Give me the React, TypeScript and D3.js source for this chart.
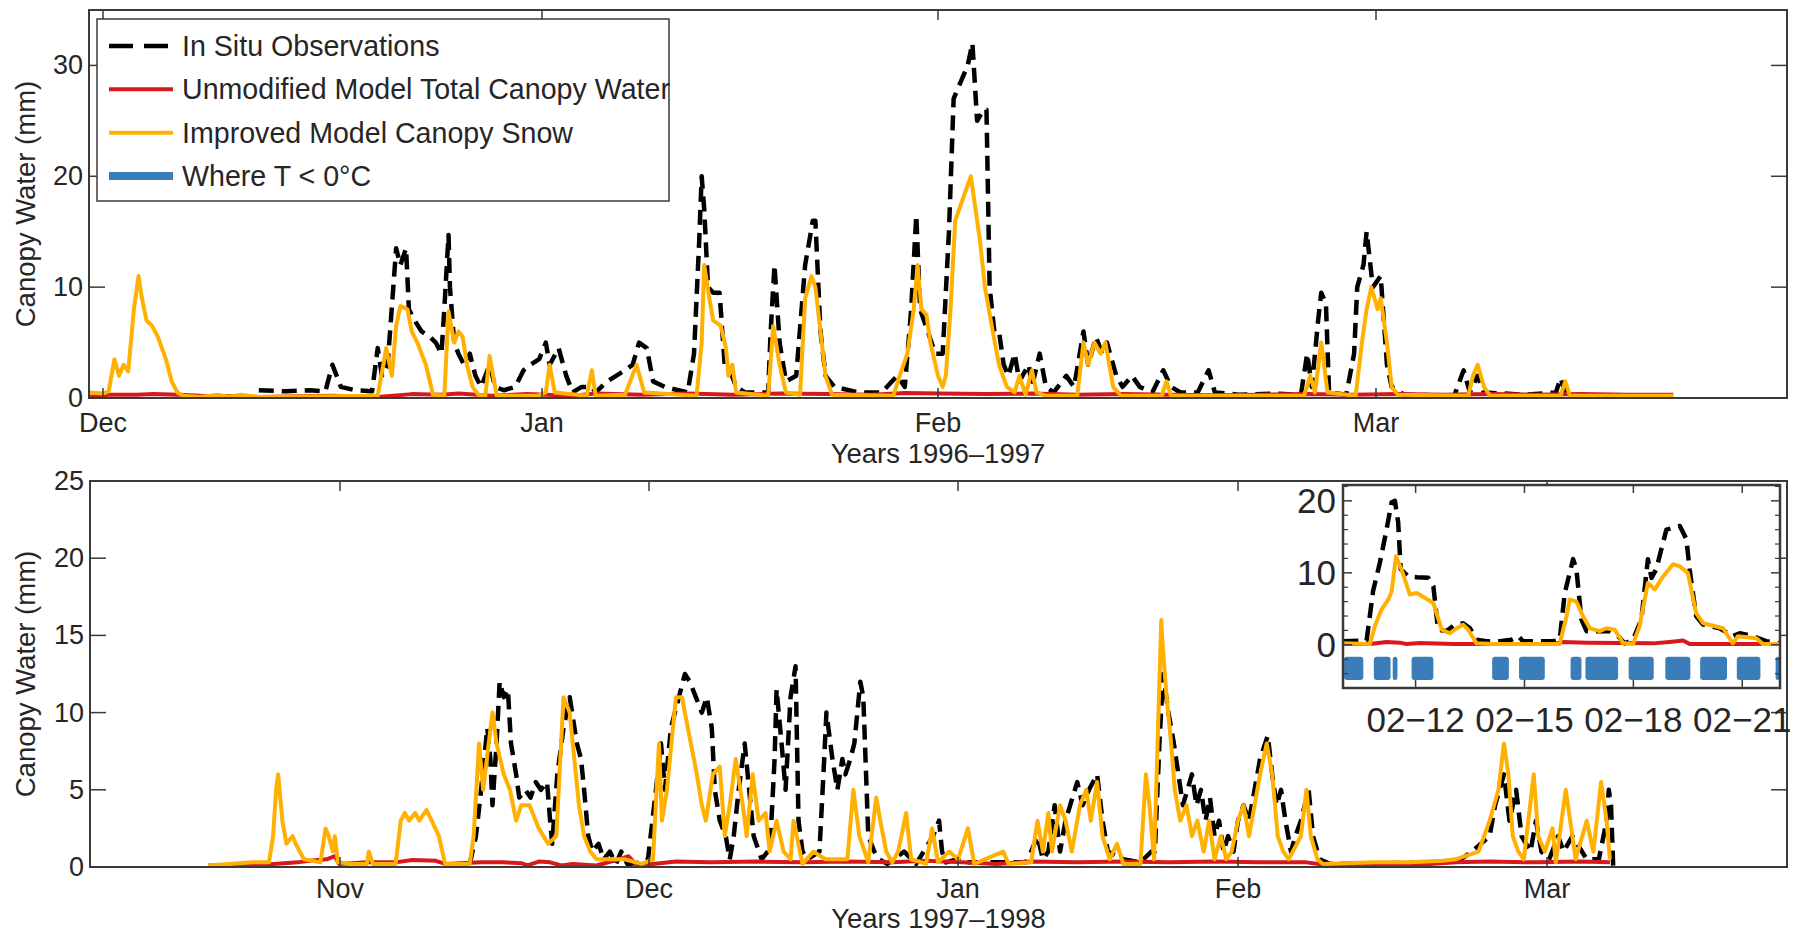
import React from 'react';
import * as d3 from 'd3';

// ---------- Top panel (1996–1997): x = days since 1 Dec 1996 ----------
const topMonthDays = [0, 31, 62, 90];
const topMonthLabels = ['Dec', 'Jan', 'Feb', 'Mar'];
const topYTicks = [0, 10, 20, 30];
const topXTitle = 'Years 1996\u20131997';

const topObs: [number, number][] = [
  [11.0, 0.7], [12.9, 0.6], [14.6, 0.7], [15.7, 0.6], [16.2, 3.0], [16.5, 2.0], [16.8, 1.0], [17.8, 0.7],
  [19.0, 0.6], [19.4, 4.5], [19.7, 2.0], [20.1, 3.0], [20.5, 10.0], [20.7, 13.5], [21.0, 12.0], [21.4, 13.5],
  [21.6, 8.0], [22.0, 7.0], [22.5, 6.0], [23.1, 5.5], [23.5, 5.0], [23.9, 4.0], [24.1, 8.0], [24.4, 14.7],
  [24.5, 10.0], [24.8, 5.0], [25.1, 4.0], [25.5, 3.0], [25.9, 4.0], [26.3, 2.0], [26.7, 1.0], [27.3, 3.0],
  [27.7, 1.0], [28.3, 0.7], [29.1, 1.0], [29.7, 2.5], [30.2, 3.0], [30.8, 3.5], [31.3, 5.0], [31.6, 3.0],
  [32.3, 4.5], [32.9, 2.0], [33.4, 0.5], [34.1, 1.0], [34.9, 1.0], [35.2, 0.5], [36.1, 1.5], [37.5, 2.5],
  [38.1, 3.0], [38.6, 5.0], [39.2, 4.5], [39.7, 1.5], [40.6, 1.0], [42.4, 0.5], [42.9, 4.0], [43.3, 14.0],
  [43.5, 20.0], [43.7, 17.0], [44.0, 10.0], [44.4, 9.5], [44.9, 9.5], [45.3, 3.0], [45.7, 2.5], [46.2, 1.0],
  [46.9, 0.5], [48.7, 0.5], [48.9, 6.0], [49.2, 12.0], [49.6, 5.0], [50.1, 1.5], [50.9, 2.0], [51.6, 12.0],
  [52.2, 16.0], [52.4, 16.0], [52.8, 6.0], [53.2, 2.0], [53.9, 1.0], [55.8, 0.5], [57.6, 0.5], [58.8, 2.0],
  [59.4, 1.0], [59.9, 8.0], [60.3, 16.5], [60.6, 8.0], [61.2, 6.0], [61.8, 4.0], [62.3, 4.0], [62.7, 15.0],
  [63.0, 27.0], [63.3, 28.0], [63.9, 30.0], [64.2, 32.0], [64.5, 25.0], [64.9, 26.0], [65.1, 26.0], [65.3, 10.0],
  [65.6, 6.0], [65.9, 6.0], [66.2, 3.0], [66.5, 2.0], [66.9, 4.0], [67.2, 1.5], [67.8, 3.0], [68.0, 1.0],
  [68.5, 4.0], [68.9, 1.0], [69.4, 0.5], [70.2, 2.0], [70.7, 1.0], [71.3, 6.0], [71.6, 3.0], [72.1, 5.5],
  [72.5, 4.0], [72.8, 5.0], [73.4, 2.0], [73.8, 1.0], [74.4, 2.0], [74.9, 1.0], [75.7, 0.5], [76.4, 2.5],
  [76.9, 1.0], [77.5, 0.5], [78.6, 0.5], [79.3, 2.5], [79.7, 0.5], [81.2, 0.3], [83.4, 0.4], [85.2, 0.3],
  [85.6, 4.0], [85.9, 1.0], [86.3, 7.0], [86.5, 9.5], [86.8, 8.5], [87.0, 0.5], [88.1, 0.3], [88.6, 4.0],
  [88.8, 10.0], [89.2, 12.0], [89.4, 15.0], [89.8, 10.0], [90.3, 11.0], [90.7, 3.0], [91.0, 1.0], [91.8, 0.3],
  [95.0, 0.2], [95.6, 2.5], [96.0, 0.5], [96.5, 2.0], [96.9, 0.5], [99.5, 0.3], [101.5, 0.5], [101.8, 1.8],
  [102.1, 0.5], [102.4, 0.3],
];

const topUnmod: [number, number][] = [
  [-0.96, 0.1], [0.4, 0.3], [2.4, 0.3], [3.6, 0.35], [5.3, 0.3], [6.9, 0.2], [8.9, 0.15], [11.0, 0.1],
  [16.2, 0.2], [19.4, 0.1], [21.8, 0.35], [23.9, 0.3], [25.1, 0.4], [27.5, 0.2], [29.9, 0.35], [33.4, 0.2],
  [35.2, 0.4], [38.8, 0.3], [42.4, 0.4], [46.0, 0.3], [49.6, 0.4], [53.2, 0.35], [56.8, 0.3], [59.4, 0.45],
  [62.1, 0.4], [65.0, 0.35], [68.0, 0.4], [70.9, 0.3], [73.8, 0.35], [76.8, 0.3], [79.7, 0.25], [82.6, 0.3],
  [85.6, 0.35], [88.5, 0.3], [91.4, 0.35], [94.3, 0.3], [97.3, 0.35], [100.2, 0.3], [103.1, 0.35], [106.1, 0.3],
  [109.0, 0.3],
];

const topImproved: [number, number][] = [
  [-0.96, 0.5], [0.0, 0.4], [0.4, 0.6], [0.81, 3.5], [1.13, 2.0], [1.46, 3.0], [1.78, 2.4], [2.18, 8.0],
  [2.51, 11.0], [2.75, 9.0], [3.07, 7.0], [3.47, 6.5], [3.88, 5.5], [4.44, 3.5], [4.85, 1.5], [5.25, 0.5],
  [5.66, 0.2], [6.88, 0.1], [8.1, 0.3], [8.9, 0.1], [9.7, 0.3], [10.9, 0.1], [19.4, 0.2], [20.0, 4.5],
  [20.4, 2.0], [20.7, 6.5], [21.0, 8.3], [21.5, 8.0], [21.8, 6.0], [22.2, 5.0], [22.8, 3.0], [23.3, 0.3],
  [24.1, 0.2], [24.4, 7.8], [24.8, 5.0], [25.1, 6.0], [25.4, 5.5], [25.7, 3.0], [26.1, 1.0], [26.5, 0.3],
  [27.0, 0.2], [27.3, 3.8], [27.8, 0.2], [30.7, 0.2], [31.3, 0.5], [31.6, 3.0], [32.0, 0.5], [34.5, 0.2],
  [34.9, 2.5], [35.2, 0.2], [37.5, 0.3], [38.4, 3.0], [39.0, 0.5], [43.1, 0.2], [43.5, 5.0], [43.7, 12.0],
  [44.1, 9.0], [44.4, 7.0], [45.0, 6.5], [45.4, 4.5], [45.6, 2.0], [45.9, 3.0], [46.2, 0.5], [48.7, 0.2],
  [49.1, 6.5], [49.6, 3.0], [50.1, 0.5], [51.2, 0.3], [51.6, 9.0], [52.1, 11.0], [52.4, 10.0], [52.8, 6.0],
  [53.2, 2.0], [53.7, 0.3], [58.5, 0.2], [59.0, 2.0], [59.6, 4.0], [60.1, 8.0], [60.4, 12.0], [60.7, 8.0],
  [61.1, 7.5], [61.4, 5.0], [62.0, 2.0], [62.3, 1.0], [62.5, 2.0], [62.8, 8.0], [63.1, 16.0], [63.6, 18.0],
  [64.1, 20.0], [64.4, 17.0], [64.7, 14.0], [65.0, 10.0], [65.5, 6.0], [65.9, 3.0], [66.4, 1.0], [66.9, 0.5],
  [67.2, 2.0], [67.6, 0.3], [68.0, 2.5], [68.3, 0.5], [68.9, 0.2], [70.9, 0.2], [71.3, 5.0], [71.6, 3.0],
  [72.0, 5.0], [72.4, 4.0], [72.7, 5.0], [73.2, 1.0], [73.7, 0.2], [76.3, 0.2], [76.6, 1.5], [76.9, 0.2],
  [85.4, 0.2], [85.8, 2.0], [86.1, 0.5], [86.5, 5.0], [86.9, 0.5], [88.7, 0.2], [89.1, 5.0], [89.4, 8.0],
  [89.7, 10.0], [90.1, 8.0], [90.3, 9.0], [90.7, 5.0], [91.0, 1.0], [91.4, 0.3], [95.9, 0.2], [96.2, 2.0],
  [96.5, 3.0], [96.9, 1.0], [97.3, 0.2], [101.8, 0.2], [102.1, 1.5], [102.4, 0.2], [109.0, 0.2],
];

// ---------- Bottom panel (1997–1998): x = days since 1 Nov 1997 ----------
const botMonthDays = [0, 30, 61, 92, 120];
const botMonthLabels = ['Nov', 'Dec', 'Jan', 'Feb', 'Mar'];
const botYTicks = [0, 5, 10, 15, 20, 25];
const botXTitle = 'Years 1997\u20131998';

const botObs: [number, number][] = [
  [12.6, 0.2], [13.2, 2.0], [13.7, 5.0], [14.3, 9.0], [14.6, 7.0], [14.8, 4.0], [15.2, 8.0], [15.5, 12.0],
  [15.9, 11.0], [16.3, 11.5], [16.6, 8.0], [17.1, 6.0], [17.4, 4.5], [18.0, 5.0], [18.5, 4.5], [19.0, 5.5],
  [19.5, 5.0], [20.1, 5.5], [20.4, 3.0], [20.6, 1.5], [21.1, 6.0], [21.7, 9.0], [22.3, 11.0], [23.0, 8.0],
  [23.4, 7.0], [23.7, 5.0], [24.1, 2.0], [24.5, 1.0], [25.1, 1.5], [25.6, 0.5], [26.2, 1.0], [26.8, 0.2],
  [27.3, 1.0], [27.9, 0.2], [29.3, 0.3], [29.9, 0.5], [30.7, 5.0], [31.2, 8.0], [31.6, 5.0], [32.2, 9.0],
  [33.0, 11.0], [33.6, 12.5], [34.1, 12.0], [34.7, 11.0], [35.3, 10.0], [35.8, 11.0], [36.3, 9.0], [36.6, 5.0],
  [37.1, 3.0], [37.7, 2.0], [38.1, 0.5], [38.5, 2.0], [39.0, 5.0], [39.6, 8.0], [39.9, 6.0], [40.5, 2.0],
  [41.3, 0.5], [41.9, 1.0], [42.2, 2.0], [42.6, 7.0], [42.8, 11.5], [43.3, 8.0], [43.7, 5.0], [44.2, 11.0],
  [44.7, 13.0], [45.0, 3.0], [45.4, 1.0], [45.9, 0.5], [47.1, 1.0], [47.5, 6.0], [47.8, 10.0], [48.4, 7.0],
  [48.9, 5.0], [49.4, 7.0], [49.7, 6.0], [50.2, 7.0], [50.6, 8.0], [51.2, 12.0], [51.5, 11.0], [52.0, 2.0],
  [52.6, 1.0], [53.1, 0.5], [53.9, 0.2], [55.6, 1.0], [56.8, 0.2], [58.5, 2.0], [59.1, 3.0], [59.4, 1.0],
  [59.8, 0.3], [60.9, 0.5], [61.5, 0.3], [68.5, 0.3], [69.1, 1.0], [69.8, 2.0], [70.4, 0.5], [71.0, 1.0],
  [71.7, 4.0], [72.3, 1.0], [72.9, 3.0], [74.2, 5.5], [74.8, 4.0], [75.5, 5.0], [76.4, 6.0], [77.0, 3.0],
  [77.6, 1.0], [79.3, 0.5], [81.2, 0.3], [82.4, 1.0], [82.8, 1.0], [83.3, 8.0], [83.7, 12.5], [84.3, 10.0],
  [84.9, 8.0], [85.4, 6.0], [85.9, 4.0], [86.4, 5.0], [86.9, 6.0], [87.4, 4.0], [87.9, 5.0], [88.4, 3.0],
  [88.9, 4.5], [89.4, 2.0], [89.9, 3.0], [90.4, 1.0], [90.9, 2.0], [91.5, 1.0], [92.0, 3.0], [92.5, 4.0],
  [93.0, 3.0], [93.5, 5.0], [94.0, 7.0], [94.7, 8.5], [95.1, 6.0], [95.5, 4.0], [95.9, 5.0], [96.3, 3.0],
  [96.8, 1.0], [97.2, 2.0], [97.7, 3.0], [98.4, 5.0], [98.8, 2.0], [99.4, 0.5], [100.3, 0.2], [110.6, 0.3],
  [112.2, 0.5], [113.2, 1.0], [114.8, 2.0], [115.3, 4.0], [116.1, 6.0], [116.6, 3.0], [117.2, 5.0], [117.7, 2.0],
  [118.5, 1.0], [119.0, 3.0], [119.5, 1.0], [120.2, 0.5], [121.0, 2.0], [121.5, 1.0], [122.3, 2.0], [123.6, 0.5],
  [124.7, 0.5], [125.4, 3.0], [125.6, 5.0], [125.8, 4.0], [126.0, 0.0],
];

const botUnmod: [number, number][] = [
  [-12.8, 0.1], [-7.4, 0.15], [-4.1, 0.3], [-3.0, 0.4], [-1.3, 0.5], [-0.5, 0.7], [-0.1, 0.2], [2.6, 0.3],
  [5.4, 0.3], [7.0, 0.45], [9.3, 0.4], [10.2, 0.2], [13.7, 0.3], [15.9, 0.3], [17.6, 0.25], [18.2, 0.1],
  [19.3, 0.35], [20.4, 0.3], [21.5, 0.1], [22.6, 0.2], [24.9, 0.1], [27.1, 0.5], [28.0, 0.7], [28.7, 0.2],
  [30.4, 0.2], [32.7, 0.35], [36.2, 0.3], [40.8, 0.35], [45.4, 0.3], [49.9, 0.35], [54.4, 0.3], [57.8, 0.4],
  [61.5, 0.3], [65.3, 0.2], [69.1, 0.35], [74.2, 0.3], [79.3, 0.35], [84.3, 0.3], [89.4, 0.35], [94.0, 0.3],
  [98.2, 0.3], [100.3, 0.1], [104.4, 0.15], [108.5, 0.15], [111.7, 0.3], [114.8, 0.35], [119.0, 0.3], [123.1, 0.35],
  [125.7, 0.3],
];

const botImproved: [number, number][] = [
  [-12.8, 0.1], [-10.8, 0.2], [-8.5, 0.3], [-6.9, 0.3], [-6.5, 2.0], [-6.2, 5.0], [-6.0, 6.0], [-5.6, 3.0],
  [-5.2, 1.5], [-4.6, 2.0], [-4.3, 1.5], [-3.5, 0.5], [-1.9, 0.3], [-1.4, 2.5], [-1.1, 2.0], [-0.7, 1.0],
  [-0.5, 2.0], [-0.2, 0.3], [1.5, 0.2], [2.6, 0.2], [2.8, 1.0], [3.2, 0.2], [5.4, 0.2], [5.9, 3.0],
  [6.3, 3.5], [6.7, 3.0], [7.3, 3.5], [7.7, 3.0], [8.4, 3.7], [8.9, 3.0], [9.6, 2.0], [10.2, 0.2],
  [12.6, 0.2], [12.97, 2.0], [13.5, 8.0], [13.9, 5.0], [14.8, 10.0], [15.2, 8.0], [15.9, 6.0], [16.5, 5.0],
  [17.1, 3.0], [17.6, 4.0], [18.4, 4.0], [19.3, 2.5], [20.2, 1.5], [21.0, 2.0], [21.7, 11.0], [22.3, 10.0],
  [22.6, 8.0], [23.2, 4.0], [23.7, 2.0], [24.3, 1.0], [24.9, 0.5], [27.6, 0.5], [29.3, 0.2], [30.4, 0.5],
  [31.0, 8.0], [31.3, 3.0], [31.8, 5.0], [32.7, 11.0], [33.3, 11.0], [33.9, 9.0], [34.5, 7.0], [34.8, 6.0],
  [35.3, 4.0], [35.7, 3.0], [36.4, 6.0], [37.1, 6.5], [37.6, 2.0], [38.1, 4.0], [38.7, 7.0], [39.4, 4.0],
  [39.8, 2.0], [40.4, 6.0], [41.0, 3.0], [41.7, 3.5], [42.1, 1.0], [42.8, 3.0], [43.5, 1.0], [44.2, 0.5],
  [44.5, 3.0], [45.4, 0.2], [46.5, 1.0], [47.7, 0.5], [49.9, 0.5], [50.5, 5.0], [51.1, 2.0], [52.0, 0.3],
  [52.8, 4.5], [53.2, 3.0], [53.8, 1.0], [54.4, 0.3], [55.0, 1.0], [55.8, 3.5], [56.3, 0.5], [57.8, 0.2],
  [58.4, 2.5], [59.0, 0.3], [60.1, 1.0], [61.0, 0.5], [62.1, 2.5], [62.8, 0.2], [66.0, 1.0], [66.6, 0.2],
  [69.1, 0.3], [69.8, 3.0], [70.4, 1.0], [71.0, 3.5], [71.4, 1.0], [72.3, 4.0], [72.9, 3.0], [73.6, 1.0],
  [74.5, 4.0], [75.2, 5.0], [75.7, 3.0], [76.4, 5.5], [77.0, 2.0], [77.8, 0.5], [78.6, 1.5], [79.3, 0.2],
  [81.2, 0.2], [81.8, 6.0], [82.2, 4.0], [82.7, 0.5], [83.1, 8.0], [83.5, 16.0], [83.7, 14.0], [84.1, 11.0],
  [84.6, 8.0], [85.0, 5.0], [85.6, 3.0], [86.3, 4.0], [86.9, 2.0], [87.5, 3.0], [88.2, 1.0], [88.8, 3.0],
  [89.4, 0.5], [90.1, 2.0], [90.7, 0.5], [91.3, 1.0], [92.0, 3.0], [92.5, 4.0], [93.0, 2.0], [93.5, 4.0],
  [94.0, 6.0], [94.6, 8.0], [95.1, 6.0], [95.6, 2.0], [96.1, 1.0], [96.6, 0.5], [97.7, 2.0], [98.2, 5.0],
  [98.6, 2.0], [99.2, 0.5], [99.7, 0.2], [104.4, 0.3], [107.5, 0.3], [110.6, 0.4], [111.7, 0.5], [113.8, 1.0],
  [114.8, 3.0], [115.6, 5.0], [116.1, 8.0], [116.5, 6.0], [116.9, 2.0], [117.4, 1.0], [117.9, 0.5], [118.8, 6.0],
  [119.2, 2.0], [119.8, 1.0], [120.5, 2.5], [120.8, 0.3], [121.7, 5.0], [122.1, 3.0], [122.6, 0.5], [123.6, 3.0],
  [124.2, 1.0], [124.9, 5.5], [125.4, 3.0], [125.7, 0.5],
];

// ---------- Inset: x = days since 10 Feb ----------
const insetTickDays = [2, 5, 8, 11];
const insetTickLabels = ['02\u221212', '02\u221215', '02\u221218', '02\u221221'];
const insetYTicks = [0, 10, 20];
const insetYMinor = [-4, -2, 2, 4, 6, 8, 12, 14, 16, 18, 22];

const insetObs: [number, number][] = [
  [0.01, 0.5], [0.65, 0.6], [0.83, 7.5], [1.02, 11.5], [1.2, 16.0], [1.34, 19.8], [1.43, 20.0], [1.52, 17.0],
  [1.59, 10.5], [1.8, 9.5], [2.03, 9.4], [2.35, 9.3], [2.49, 8.1], [2.62, 2.1], [2.85, 1.9], [3.08, 2.8],
  [3.31, 3.0], [3.5, 2.3], [3.68, 0.7], [3.95, 0.5], [4.32, 0.5], [4.64, 0.7], [4.83, 1.2], [4.96, 0.5],
  [5.79, 0.5], [5.97, 0.7], [6.11, 7.2], [6.34, 11.9], [6.43, 10.5], [6.57, 3.5], [6.71, 1.9], [6.98, 1.9],
  [7.35, 1.9], [7.58, 1.2], [7.76, 0.2], [7.99, 0.7], [8.22, 3.5], [8.4, 11.9], [8.5, 9.3], [8.63, 10.5],
  [8.91, 16.0], [9.28, 16.5], [9.46, 14.7], [9.55, 10.5], [9.73, 4.0], [9.92, 2.8], [10.38, 2.3], [10.74, 1.2],
  [10.93, 1.6], [11.29, 1.2], [11.66, 0.5], [12.03, 0.2],
];

const insetUnmod: [number, number][] = [
  [0.01, 0.1], [0.74, 0.1], [1.2, 0.4], [1.57, 0.3], [1.75, 0.1], [2.12, 0.25], [3.04, 0.1], [5.79, 0.1],
  [6.06, 0.4], [6.71, 0.3], [8.54, 0.2], [9.0, 0.4], [9.37, 0.6], [9.55, 0.1], [12.03, 0.1],
];

const insetImproved: [number, number][] = [
  [0.01, 0.2], [0.74, 0.1], [0.88, 2.6], [1.06, 4.9], [1.25, 6.3], [1.34, 7.4], [1.46, 12.3], [1.61, 10.5],
  [1.84, 7.0], [2.03, 7.2], [2.49, 5.8], [2.72, 2.1], [2.94, 1.6], [3.13, 2.3], [3.31, 2.8], [3.45, 2.1],
  [3.68, 0.2], [4.14, 0.1], [5.97, 0.1], [6.16, 4.0], [6.25, 6.3], [6.43, 6.0], [6.61, 4.0], [6.8, 2.3],
  [7.07, 1.9], [7.26, 2.3], [7.49, 2.1], [7.72, 0.2], [7.99, 0.1], [8.17, 2.6], [8.4, 8.6], [8.59, 7.7],
  [8.82, 9.5], [9.09, 11.2], [9.28, 10.9], [9.5, 10.0], [9.73, 4.4], [9.92, 3.0], [10.47, 2.3], [10.74, 0.2],
  [10.88, 1.2], [11.39, 0.9], [11.57, 0.1], [12.03, 0.1],
];

// periods where T < 0 °C (start day, end day)
const insetFreezing: [number, number][] = [
  [0.03, 0.56], [0.85, 1.31], [1.37, 1.5], [1.89, 2.49], [4.11, 4.57], [4.85, 5.56], [6.27, 6.57],
  [6.68, 7.58], [7.87, 8.56], [8.88, 9.57], [9.84, 10.58], [10.85, 11.5], [11.92, 12.03],
];
const freezeBand: [number, number] = [-4.9, -1.65];

const legendLabels = [
  'In Situ Observations',
  'Unmodified Model Total Canopy Water',
  'Improved Model Canopy Snow',
  'Where T < 0\u00b0C',
];
const yTitle = 'Canopy Water (mm)';

// ---------- styles ----------
const COL_OBS = '#000000';
const COL_UNMOD = '#d7191c';
const COL_IMP = '#ffb000';
const COL_FREEZE = '#3a7dba';
const AXIS = '#3a3a3a';
const TEXT = '#262626';
const FONT = '"Liberation Sans", Arial, Helvetica, sans-serif';
const DASH = '15 8';

type Pt = [number, number];

interface PanelProps {
  left: number; right: number; top: number; bottom: number;
  monthDays: number[]; monthPx: number[]; monthLabels: string[];
  yMax: number; yTicks: number[]; xTitle: string; labelDy: number; titleDy: number;
  obs: Pt[]; unmod: Pt[]; improved: Pt[];
}

function Panel(p: PanelProps) {
  const x = d3.scaleLinear().domain(p.monthDays).range(p.monthPx);
  const y = d3.scaleLinear().domain([0, p.yMax]).range([p.bottom, p.top]);
  const line = d3.line<Pt>().x(d => x(d[0])).y(d => y(d[1]));
  const midY = (p.top + p.bottom) / 2;
  const midX = (p.left + p.right) / 2;
  return (
    <g>
      <path d={line(p.obs) || ''} fill="none" stroke={COL_OBS} strokeWidth={4.5} strokeDasharray={DASH} strokeLinejoin="round" />
      <path d={line(p.unmod) || ''} fill="none" stroke={COL_UNMOD} strokeWidth={4} strokeLinejoin="round" />
      <path d={line(p.improved) || ''} fill="none" stroke={COL_IMP} strokeWidth={4} strokeLinejoin="round" />
      <rect x={p.left} y={p.top} width={p.right - p.left} height={p.bottom - p.top} fill="none" stroke={AXIS} strokeWidth={2} />
      {p.yTicks.map(t => (
        <g key={'y' + t}>
          <line x1={p.left} x2={p.left + 16} y1={y(t)} y2={y(t)} stroke={AXIS} strokeWidth={1.5} />
          <line x1={p.right} x2={p.right - 16} y1={y(t)} y2={y(t)} stroke={AXIS} strokeWidth={1.5} />
          <text x={p.left - 6} y={y(t)} textAnchor="end" dominantBaseline="central" fontSize={27} fill={TEXT}>{t}</text>
        </g>
      ))}
      {p.monthDays.map((d, i) => (
        <g key={'x' + d}>
          <line x1={x(d)} x2={x(d)} y1={p.bottom} y2={p.bottom - 10} stroke={AXIS} strokeWidth={1.5} />
          <line x1={x(d)} x2={x(d)} y1={p.top} y2={p.top + 10} stroke={AXIS} strokeWidth={1.5} />
          <text x={x(d)} y={p.bottom + p.labelDy} textAnchor="middle" dominantBaseline="central" fontSize={27} fill={TEXT}>{p.monthLabels[i]}</text>
        </g>
      ))}
      <text x={midX} y={p.bottom + p.titleDy} textAnchor="middle" dominantBaseline="central" fontSize={27.5} fill={TEXT}>{p.xTitle}</text>
      <text transform={`translate(25,${midY}) rotate(-90)`} textAnchor="middle" dominantBaseline="central" fontSize={27.5} fill={TEXT}>{yTitle}</text>
    </g>
  );
}

function Legend() {
  const rowY = d3.scalePoint<number>().domain([0, 1, 2, 3]).range([46, 176]);
  const x0 = 109, x1 = 173;
  return (
    <g>
      <rect x={97} y={19} width={572} height={182} fill="#fff" stroke={AXIS} strokeWidth={1.5} />
      <line x1={x0} x2={x1} y1={rowY(0)} y2={rowY(0)} stroke={COL_OBS} strokeWidth={4.5} strokeDasharray="24 11" />
      <line x1={x0} x2={x1} y1={rowY(1)} y2={rowY(1)} stroke={COL_UNMOD} strokeWidth={4} />
      <line x1={x0} x2={x1} y1={rowY(2)} y2={rowY(2)} stroke={COL_IMP} strokeWidth={4} />
      <line x1={x0} x2={x1} y1={rowY(3)} y2={rowY(3)} stroke={COL_FREEZE} strokeWidth={8} />
      {legendLabels.map((l, i) => (
        <text key={l} x={182} y={rowY(i)} dominantBaseline="central" fontSize={28.6} fill={TEXT}>{l}</text>
      ))}
    </g>
  );
}

function Inset() {
  const L = 1343, R = 1780, T = 485, B = 688;
  const x = d3.scaleLinear().domain([0, 12.04]).range([L, R]);
  const y = d3.scaleLinear().domain([-6, 22.2]).range([B, T]);
  const line = d3.line<Pt>().x(d => x(d[0])).y(d => y(d[1]));
  return (
    <g>
      <rect x={L} y={T} width={R - L} height={B - T} fill="#fff" />
      {insetFreezing.map(([a, b], i) => (
        <rect key={i} x={x(a)} width={Math.max(1, x(b) - x(a))} y={y(freezeBand[1])} height={y(freezeBand[0]) - y(freezeBand[1])} rx={3} fill={COL_FREEZE} />
      ))}
      <path d={line(insetObs) || ''} fill="none" stroke={COL_OBS} strokeWidth={4.5} strokeDasharray={DASH} strokeLinejoin="round" />
      <path d={line(insetUnmod) || ''} fill="none" stroke={COL_UNMOD} strokeWidth={4} strokeLinejoin="round" />
      <path d={line(insetImproved) || ''} fill="none" stroke={COL_IMP} strokeWidth={4} strokeLinejoin="round" />
      <rect x={L} y={T} width={R - L} height={B - T} fill="none" stroke={AXIS} strokeWidth={2.5} />
      {insetYMinor.map(t => (
        <g key={'m' + t}>
          <line x1={L} x2={L + 5} y1={y(t)} y2={y(t)} stroke={AXIS} strokeWidth={1.2} />
          <line x1={R} x2={R - 5} y1={y(t)} y2={y(t)} stroke={AXIS} strokeWidth={1.2} />
        </g>
      ))}
      {insetYTicks.map(t => (
        <g key={'y' + t}>
          <line x1={L} x2={L + 9} y1={y(t)} y2={y(t)} stroke={AXIS} strokeWidth={1.5} />
          <line x1={R} x2={R - 9} y1={y(t)} y2={y(t)} stroke={AXIS} strokeWidth={1.5} />
          <text x={L - 7} y={y(t)} textAnchor="end" dominantBaseline="central" fontSize={35} fill={TEXT}>{t}</text>
        </g>
      ))}
      {insetTickDays.map((d, i) => (
        <g key={'x' + d}>
          <line x1={x(d)} x2={x(d)} y1={B} y2={B - 8} stroke={AXIS} strokeWidth={1.5} />
          <line x1={x(d)} x2={x(d)} y1={T} y2={T + 8} stroke={AXIS} strokeWidth={1.5} />
          <text x={x(d)} y={B + 31} textAnchor="middle" dominantBaseline="central" fontSize={35} fill={TEXT}>{insetTickLabels[i]}</text>
        </g>
      ))}
    </g>
  );
}

export default function App() {
  return (
    <svg width={1797} height={934} viewBox="0 0 1797 934" style={{ position: 'absolute', left: 0, top: 0, background: '#fff' }} fontFamily={FONT}>
      <rect x={0} y={0} width={1797} height={934} fill="#fff" />
      <Panel left={89} right={1787} top={10} bottom={398}
        monthDays={topMonthDays} monthPx={[103, 542, 938, 1376]} monthLabels={topMonthLabels}
        yMax={35} yTicks={topYTicks} xTitle={topXTitle} labelDy={25} titleDy={55}
        obs={topObs} unmod={topUnmod} improved={topImproved} />
      <Legend />
      <Panel left={90} right={1787} top={481} bottom={867}
        monthDays={botMonthDays} monthPx={[340, 649, 958, 1238, 1547]} monthLabels={botMonthLabels}
        yMax={25} yTicks={botYTicks} xTitle={botXTitle} labelDy={22} titleDy={51}
        obs={botObs} unmod={botUnmod} improved={botImproved} />
      <Inset />
    </svg>
  );
}
